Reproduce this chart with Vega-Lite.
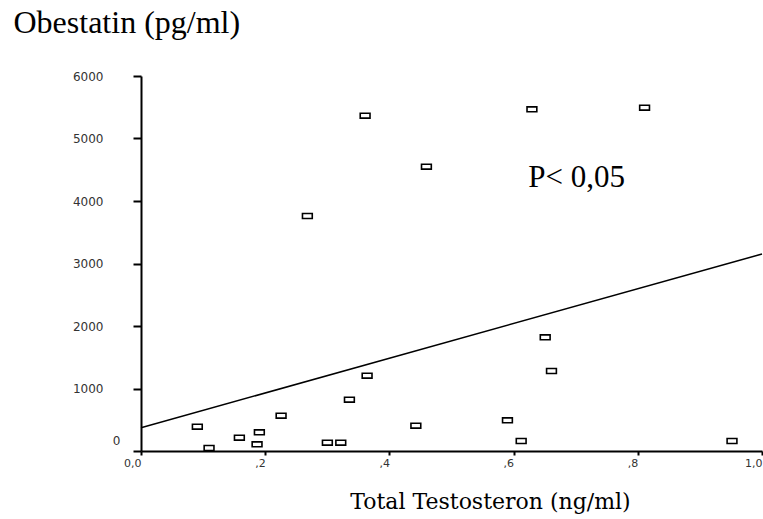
{
  "$schema": "https://vega.github.io/schema/vega-lite/v6.json",
  "width": 621,
  "height": 375,
  "autosize": "none",
  "padding": {"left": 141, "top": 76, "right": 1, "bottom": 68},
  "background": "white",
  "config": {"view": {"stroke": null}},
  "datasets": {
    "points": [
      {"testosteron": 0.0907, "obestatin": 389},
      {"testosteron": 0.1096, "obestatin": 48},
      {"testosteron": 0.1584, "obestatin": 213},
      {"testosteron": 0.1869, "obestatin": 107},
      {"testosteron": 0.1906, "obestatin": 299},
      {"testosteron": 0.2256, "obestatin": 565},
      {"testosteron": 0.2679, "obestatin": 3760},
      {"testosteron": 0.3001, "obestatin": 133},
      {"testosteron": 0.3217, "obestatin": 133},
      {"testosteron": 0.3356, "obestatin": 821},
      {"testosteron": 0.3609, "obestatin": 5365},
      {"testosteron": 0.3641, "obestatin": 1205},
      {"testosteron": 0.4426, "obestatin": 405},
      {"testosteron": 0.4596, "obestatin": 4549},
      {"testosteron": 0.5901, "obestatin": 491},
      {"testosteron": 0.6122, "obestatin": 160},
      {"testosteron": 0.6295, "obestatin": 5467},
      {"testosteron": 0.6509, "obestatin": 1819},
      {"testosteron": 0.661, "obestatin": 1280},
      {"testosteron": 0.8109, "obestatin": 5493},
      {"testosteron": 0.9517, "obestatin": 160}
    ],
    "fit": [
      {"testosteron": 0, "obestatin": 372},
      {"testosteron": 1, "obestatin": 3152}
    ],
    "note": [
      {"testosteron": 0.6235, "obestatin": 4219, "label": "P< 0,05"}
    ]
  },
  "layer": [
    {
      "data": {"name": "fit"},
      "mark": {"type": "line", "color": "black", "strokeWidth": 1.5},
      "encoding": {
        "x": {
          "field": "testosteron",
          "type": "quantitative",
          "scale": {"domain": [0, 1], "nice": false},
          "axis": {
            "title": "Total Testosteron (ng/ml)",
            "titleFont": "DejaVu Serif",
            "titleFontSize": 22,
            "titleFontWeight": "normal",
            "titleColor": "black",
            "titleX": 349,
            "titleY": 57,
            "titleAlign": "center",
            "titleBaseline": "alphabetic",
            "values": [0, 0.2, 0.4, 0.6, 0.8, 1],
            "labelExpr": "datum.value == 0 ? '0,0' : datum.value == 1 ? '1,0' : ',' + format(datum.value * 10, 'd')",
            "labelFont": "DejaVu Sans",
            "labelFontSize": 11,
            "labelColor": "#333",
            "labelAlign": "right",
            "labelPadding": 2,
            "labelFlush": false,
            "labelOverlap": false,
            "grid": false,
            "domainColor": "black",
            "domainWidth": 2,
            "tickColor": "black",
            "tickWidth": 2,
            "tickSize": 4
          }
        },
        "y": {
          "field": "obestatin",
          "type": "quantitative",
          "scale": {"domain": [0, 6000], "nice": false},
          "axis": {
            "title": "Obestatin (pg/ml)",
            "titleAngle": 0,
            "titleX": -128,
            "titleY": -44,
            "titleAlign": "left",
            "titleBaseline": "alphabetic",
            "titleFont": "Liberation Serif",
            "titleFontSize": 32,
            "titleFontWeight": "normal",
            "titleColor": "black",
            "values": [0, 1000, 2000, 3000, 4000, 5000, 6000],
            "format": "d",
            "labelFont": "DejaVu Sans",
            "labelFontSize": 12,
            "labelColor": "#333",
            "labelPadding": {"condition": {"test": "datum.value == 0", "value": 13}, "value": 30},
            "labelOffset": {"condition": {"test": "datum.value == 0", "value": -11}, "value": 0},
            "labelFlush": false,
            "labelOverlap": false,
            "grid": false,
            "domainColor": "black",
            "domainWidth": 2,
            "tickColor": "black",
            "tickWidth": 2,
            "tickSize": 8
          }
        }
      }
    },
    {
      "data": {"name": "points"},
      "mark": {
        "type": "point",
        "shape": "M-1,-0.5H1V0.5H-1Z",
        "size": 96,
        "filled": false,
        "fill": "white",
        "fillOpacity": 1,
        "stroke": "black",
        "strokeWidth": 1.6,
        "opacity": 1
      },
      "encoding": {
        "x": {"field": "testosteron", "type": "quantitative"},
        "y": {"field": "obestatin", "type": "quantitative"}
      }
    },
    {
      "data": {"name": "note"},
      "mark": {
        "type": "text",
        "align": "left",
        "baseline": "alphabetic",
        "font": "Liberation Serif",
        "fontSize": 31,
        "color": "black"
      },
      "encoding": {
        "x": {"field": "testosteron", "type": "quantitative"},
        "y": {"field": "obestatin", "type": "quantitative"},
        "text": {"field": "label"}
      }
    }
  ]
}
